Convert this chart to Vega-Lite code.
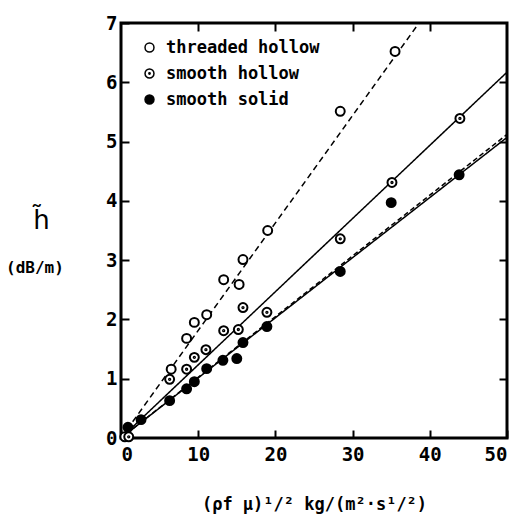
{
  "$schema": "https://vega.github.io/schema/vega-lite/v6.json",
  "width": 386,
  "height": 415,
  "autosize": {"type": "none"},
  "padding": {"left": 121, "top": 23, "right": 15, "bottom": 84},
  "background": "white",
  "title": {
    "text": "(dB/m)",
    "orient": "top",
    "anchor": "start",
    "frame": "group",
    "font": "DejaVu Sans Mono",
    "fontWeight": "bold",
    "fontSize": 16,
    "color": "black",
    "baseline": "bottom",
    "dx": -115,
    "dy": 282
  },
  "config": {
    "view": {"stroke": "black", "strokeWidth": 3},
    "axis": {
      "grid": false,
      "domain": false,
      "tickColor": "black",
      "tickWidth": 2,
      "tickSize": -8,
      "labelFont": "DejaVu Sans Mono",
      "labelFontWeight": "bold",
      "labelFontSize": 19,
      "labelColor": "black",
      "titleColor": "black"
    }
  },
  "datasets": {
    "pts": [
      {"series": "threaded hollow", "x": 0.5, "y": 0.02},
      {"series": "threaded hollow", "x": 6.5, "y": 1.16},
      {"series": "threaded hollow", "x": 8.5, "y": 1.68},
      {"series": "threaded hollow", "x": 9.5, "y": 1.95},
      {"series": "threaded hollow", "x": 11.1, "y": 2.08},
      {"series": "threaded hollow", "x": 13.3, "y": 2.67},
      {"series": "threaded hollow", "x": 15.3, "y": 2.59},
      {"series": "threaded hollow", "x": 15.8, "y": 3.01},
      {"series": "threaded hollow", "x": 19.0, "y": 3.5},
      {"series": "threaded hollow", "x": 28.4, "y": 5.51},
      {"series": "threaded hollow", "x": 35.5, "y": 6.52},
      {"series": "smooth hollow", "x": 1.0, "y": 0.02},
      {"series": "smooth hollow", "x": 6.3, "y": 0.99},
      {"series": "smooth hollow", "x": 8.5, "y": 1.16},
      {"series": "smooth hollow", "x": 9.5, "y": 1.36},
      {"series": "smooth hollow", "x": 11.0, "y": 1.49},
      {"series": "smooth hollow", "x": 13.3, "y": 1.81},
      {"series": "smooth hollow", "x": 15.2, "y": 1.83},
      {"series": "smooth hollow", "x": 15.8, "y": 2.2},
      {"series": "smooth hollow", "x": 18.9, "y": 2.12},
      {"series": "smooth hollow", "x": 28.4, "y": 3.36},
      {"series": "smooth hollow", "x": 35.1, "y": 4.31},
      {"series": "smooth hollow", "x": 43.9, "y": 5.39},
      {"series": "smooth solid", "x": 0.9, "y": 0.18},
      {"series": "smooth solid", "x": 2.6, "y": 0.31},
      {"series": "smooth solid", "x": 6.3, "y": 0.63},
      {"series": "smooth solid", "x": 8.5, "y": 0.83},
      {"series": "smooth solid", "x": 9.5, "y": 0.95},
      {"series": "smooth solid", "x": 11.1, "y": 1.17},
      {"series": "smooth solid", "x": 13.2, "y": 1.31},
      {"series": "smooth solid", "x": 15.0, "y": 1.34},
      {"series": "smooth solid", "x": 15.8, "y": 1.61},
      {"series": "smooth solid", "x": 18.9, "y": 1.88},
      {"series": "smooth solid", "x": 28.4, "y": 2.81},
      {"series": "smooth solid", "x": 35.0, "y": 3.97},
      {"series": "smooth solid", "x": 43.8, "y": 4.44}
    ],
    "fits": [
      {"fit": "threaded hollow", "x": 0, "y": 0},
      {"fit": "threaded hollow", "x": 38.6, "y": 7},
      {"fit": "smooth hollow", "x": 0, "y": 0},
      {"fit": "smooth hollow", "x": 50, "y": 6.17},
      {"fit": "smooth solid", "x": 0, "y": 0},
      {"fit": "smooth solid", "x": 50, "y": 5.07},
      {"fit": "smooth solid (alt)", "x": 0, "y": 0},
      {"fit": "smooth solid (alt)", "x": 50, "y": 5.12}
    ]
  },
  "layer": [
    {
      "data": {"name": "fits"},
      "mark": {"type": "line", "stroke": "black", "strokeWidth": 1.5},
      "encoding": {
        "x": {
          "field": "x", "type": "quantitative",
          "scale": {"domain": [0, 50]},
          "axis": {"orient": "top", "labels": false, "title": null, "values": [10, 20, 30, 40]}
        },
        "y": {
          "field": "y", "type": "quantitative",
          "scale": {"domain": [0, 7]},
          "axis": {"orient": "right", "labels": false, "title": null, "values": [1, 2, 3, 4, 5, 6]}
        },
        "detail": {"field": "fit"},
        "strokeDash": {
          "field": "fit", "type": "nominal",
          "scale": {
            "domain": ["threaded hollow", "smooth hollow", "smooth solid", "smooth solid (alt)"],
            "range": [[6, 4], [1, 0], [1, 0], [5, 3]]
          },
          "legend": null
        }
      }
    },
    {
      "data": {"name": "pts"},
      "mark": {"type": "point", "filled": true, "stroke": "black", "strokeWidth": 2, "size": 80, "opacity": 1},
      "encoding": {
        "x": {
          "field": "x", "type": "quantitative",
          "scale": {"domain": [0, 50]},
          "axis": {
            "orient": "bottom", "values": [0, 10, 20, 30, 40, 50], "labelPadding": 15,
            "title": "(ρf μ)¹/²  kg/(m²·s¹/²)",
            "titleFont": "DejaVu Sans Mono", "titleFontWeight": "bold", "titleFontSize": 17,
            "titleY": 71, "titleBaseline": "alphabetic"
          }
        },
        "y": {
          "field": "y", "type": "quantitative",
          "scale": {"domain": [0, 7]},
          "axis": {
            "orient": "left", "values": [0, 1, 2, 3, 4, 5, 6, 7], "labelPadding": 12,
            "title": "h̃",
            "titleFont": "DejaVu Sans", "titleFontSize": 26, "titleFontWeight": "normal",
            "titleAngle": 0, "titleAlign": "center", "titleBaseline": "alphabetic",
            "titleX": -80, "titleY": 205
          }
        },
        "shape": {
          "field": "series", "type": "nominal",
          "scale": {
            "domain": ["threaded hollow", "smooth hollow", "smooth solid"],
            "range": [
              "circle",
              "M -1 0 A 1 1 0 1 0 1 0 A 1 1 0 1 0 -1 0 Z M -0.15 0 A 0.15 0.15 0 1 0 0.15 0 A 0.15 0.15 0 1 0 -0.15 0 Z",
              "circle"
            ]
          },
          "legend": {
            "title": null, "orient": "none", "legendX": 20, "legendY": 16, "padding": 0,
            "labelFont": "DejaVu Sans Mono", "labelFontWeight": "bold", "labelFontSize": 17,
            "labelColor": "black", "labelOffset": 8, "rowPadding": 8,
            "symbolSize": 80,
            "encode": {"symbols": {"update": {"stroke": {"value": "black"}, "strokeWidth": {"value": 2}, "opacity": {"value": 1}}}}
          }
        },
        "fill": {
          "field": "series", "type": "nominal",
          "scale": {
            "domain": ["threaded hollow", "smooth hollow", "smooth solid"],
            "range": ["white", "white", "black"]
          },
          "legend": {
            "title": null, "orient": "none", "legendX": 20, "legendY": 16, "padding": 0,
            "labelFont": "DejaVu Sans Mono", "labelFontWeight": "bold", "labelFontSize": 17,
            "labelColor": "black", "labelOffset": 8, "rowPadding": 8,
            "symbolSize": 80,
            "encode": {"symbols": {"update": {"stroke": {"value": "black"}, "strokeWidth": {"value": 2}, "opacity": {"value": 1}}}}
          }
        }
      }
    }
  ],
  "resolve": {"axis": {"x": "independent", "y": "independent"}}
}
